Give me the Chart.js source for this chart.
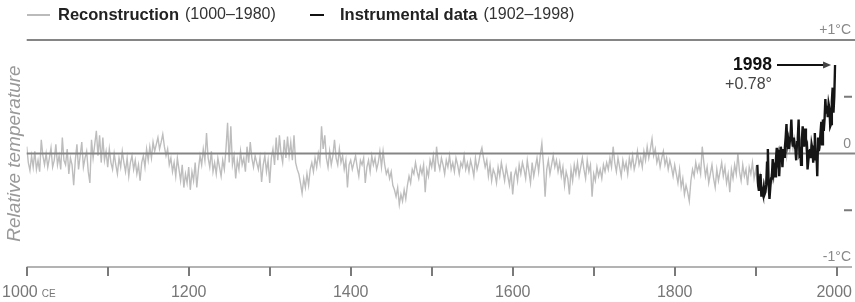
<!DOCTYPE html>
<html>
<head>
<meta charset="utf-8">
<script src="https://cdn.jsdelivr.net/npm/chart.js@4"></script>
<style>
html, body { margin: 0; padding: 0; background: #fff; }
#wrap { width: 855px; height: 302px; }
</style>
</head>
<body>
<div id="wrap"><canvas id="chart" width="855" height="302"></canvas></div>
<script>
// series names and their year ranges (legend)
const seriesNames = ['Reconstruction', 'Instrumental data'];
const seriesRanges = ['(1000\u20131980)', '(1902\u20131998)'];

// reconstruction, one value every 2 years from 1000 to 1980 (deg C, relative)
const reconStart = 1000;
const reconStep = 2;
const reconValues = [
  0.06, -0.08, -0.15, -0.02, -0.12, 0.02, -0.14, -0.06, -0.16, 0.12,     // 1000
  -0.02, -0.10, 0.00, -0.12, -0.04, 0.05, -0.12, -0.06, 0.08, -0.10,     // 1020
  -0.02, -0.14, 0.14, -0.06, -0.10, 0.04, -0.18, -0.04, -0.10, -0.28,    // 1040
  -0.06, 0.08, -0.14, -0.02, 0.10, -0.12, -0.04, 0.02, -0.16, -0.26,     // 1060
  0.12, -0.04, 0.08, 0.20, -0.02, 0.16, -0.08, 0.14, -0.06, 0.02,        // 1080
  -0.12, 0.04, -0.08, -0.14, 0.00, -0.10, -0.18, -0.04, -0.12, 0.02,     // 1100
  -0.08, -0.16, -0.04, -0.20, -0.08, -0.02, -0.14, -0.06, -0.18, -0.10,  // 1120
  -0.24, -0.08, -0.02, -0.12, 0.04, -0.06, 0.06, -0.04, 0.10, 0.02,      // 1140
  0.08, 0.14, 0.04, 0.10, 0.17, 0.06, -0.02, 0.04, -0.10, -0.04,         // 1160
  -0.16, -0.08, -0.20, -0.04, -0.14, -0.24, -0.10, -0.30, -0.18, -0.26,  // 1180
  -0.12, -0.32, -0.16, -0.24, -0.08, -0.30, -0.14, -0.02, -0.10, 0.04,   // 1200
  -0.06, 0.18, -0.04, -0.12, 0.02, -0.16, -0.08, -0.18, -0.04, -0.12,    // 1220
  -0.20, -0.06, -0.14, 0.04, 0.27, -0.08, 0.24, -0.10, -0.02, -0.22,     // 1240
  -0.06, -0.14, 0.02, -0.10, -0.04, -0.16, 0.06, -0.08, 0.10, -0.04,     // 1260
  -0.12, -0.02, -0.08, -0.14, -0.04, -0.25, -0.10, -0.02, -0.16, -0.06,  // 1280
  -0.26, -0.04, 0.04, -0.10, 0.14, -0.06, 0.16, 0.00, -0.08, 0.12,       // 1300
  -0.04, 0.15, -0.02, 0.10, -0.06, 0.16, -0.08, -0.14, -0.18, -0.26,     // 1320
  -0.35, -0.22, -0.30, -0.18, -0.28, -0.14, -0.08, -0.16, -0.04, -0.12,  // 1340
  0.00, -0.08, 0.24, 0.04, 0.16, -0.04, -0.12, 0.02, -0.10, -0.02,       // 1360
  0.12, -0.04, -0.10, 0.04, -0.08, -0.02, -0.14, -0.06, -0.30, -0.10,    // 1380
  -0.06, -0.14, -0.08, -0.02, -0.12, -0.20, -0.06, -0.10, -0.04, -0.26,  // 1400
  -0.12, -0.06, -0.16, -0.02, -0.10, -0.04, -0.14, -0.08, 0.02, -0.12,   // 1420
  0.02, -0.10, -0.18, -0.14, -0.22, -0.16, -0.28, -0.32, -0.38, -0.30,   // 1440
  -0.45, -0.36, -0.42, -0.32, -0.40, -0.28, -0.20, -0.26, -0.14, -0.18,  // 1460
  -0.08, -0.16, -0.22, -0.12, -0.18, -0.10, -0.34, -0.14, -0.20, -0.06,  // 1480
  -0.12, -0.02, -0.16, 0.06, -0.08, -0.14, -0.04, -0.10, -0.18, -0.06,   // 1500
  -0.12, -0.02, -0.14, -0.08, -0.16, -0.04, -0.10, -0.18, -0.08, -0.12,  // 1520
  -0.02, -0.14, -0.08, -0.16, -0.06, -0.12, -0.20, -0.04, -0.14, -0.08,  // 1540
  0.00, 0.05, -0.04, -0.12, -0.06, -0.20, -0.10, -0.24, -0.14, -0.18,    // 1560
  -0.26, -0.12, -0.20, -0.08, -0.16, -0.24, -0.12, -0.20, -0.28, -0.16,  // 1580
  -0.36, -0.20, -0.14, -0.24, -0.10, -0.18, -0.08, -0.14, -0.22, -0.06,  // 1600
  -0.16, -0.26, -0.08, -0.20, -0.12, -0.04, -0.16, -0.02, 0.09, -0.10,   // 1620
  -0.38, -0.14, -0.06, -0.18, -0.10, -0.02, -0.12, -0.06, -0.16, -0.08,  // 1640
  -0.20, -0.12, -0.28, -0.16, -0.22, -0.36, -0.14, -0.24, -0.10, -0.18,  // 1660
  -0.08, -0.20, -0.12, -0.04, -0.14, -0.22, -0.06, -0.16, -0.10, -0.38,  // 1680
  -0.18, -0.24, -0.12, -0.20, -0.14, -0.22, -0.10, -0.16, -0.08, -0.14,  // 1700
  -0.04, -0.12, 0.06, -0.08, -0.16, -0.04, -0.12, -0.20, -0.06, -0.14,   // 1720
  -0.08, -0.18, -0.04, -0.12, -0.02, -0.14, -0.08, 0.02, -0.10, -0.04,   // 1740
  -0.12, 0.02, -0.06, 0.06, -0.04, 0.04, 0.13, -0.02, 0.04, -0.08,       // 1760
  -0.02, -0.12, -0.04, 0.02, -0.10, -0.04, -0.14, -0.06, -0.12, -0.20,   // 1780
  -0.10, -0.18, -0.26, -0.14, -0.30, -0.22, -0.36, -0.28, -0.34, -0.42,  // 1800
  -0.24, -0.14, -0.20, -0.08, -0.16, -0.10, -0.18, 0.06, -0.08, -0.20,   // 1820
  -0.12, -0.26, -0.18, -0.10, -0.22, -0.30, -0.14, -0.24, -0.16, -0.08,  // 1840
  -0.20, -0.12, -0.26, -0.18, -0.34, -0.14, -0.22, -0.10, -0.18, 0.00,   // 1860
  -0.16, -0.24, -0.10, -0.20, -0.14, -0.28, -0.12, -0.18, -0.08, -0.22,  // 1880
  -0.14, -0.26, -0.30, -0.20, -0.34, -0.24, -0.28, -0.18, -0.30, -0.22,  // 1900
  -0.16, -0.24, -0.12, -0.18, -0.06, -0.14, -0.02, -0.08, 0.04, -0.04,   // 1920
  0.08, 0.02, 0.12, 0.04, 0.14, 0.06, 0.10, 0.00, 0.12, 0.06,            // 1940
  0.14, 0.04, 0.10, -0.02, 0.06, 0.00, 0.08, -0.04, 0.04, 0.02,          // 1960
  0.06                                                                   // 1980
];

// instrumental data, yearly from 1902 to 1998
const instStart = 1902;
const instValues = [
  -0.10, -0.28, -0.33, -0.24, -0.18, -0.38, -0.33, -0.36, -0.30, -0.36,  // 1902
  -0.34, -0.27, -0.08, 0.04, -0.28, -0.40, -0.30, -0.22, -0.20, -0.05,   // 1912
  -0.18, -0.14, -0.20, -0.05, 0.05, -0.06, -0.02, -0.20, 0.02, 0.06,     // 1922
  0.00, -0.12, 0.04, -0.03, 0.05, 0.14, 0.26, 0.08, 0.12, 0.04,          // 1932
  0.10, 0.16, 0.30, 0.12, 0.06, 0.14, 0.06, 0.04, -0.06, 0.10,           // 1942
  0.14, 0.30, 0.00, 0.02, -0.10, 0.12, 0.24, 0.14, 0.06, 0.22,           // 1952
  0.12, 0.10, -0.14, -0.06, 0.02, 0.04, -0.04, 0.08, 0.04, -0.08,        // 1962
  0.06, 0.18, -0.06, 0.02, -0.20, 0.14, 0.02, 0.08, 0.18, 0.28,          // 1972
  0.08, 0.30, 0.20, 0.30, 0.48, 0.36, 0.42, 0.32, 0.44, 0.40,            // 1982
  0.24, 0.26, 0.46, 0.58, 0.36, 0.50, 0.78                               // 1992
];

// axis ticks
const tickYears = [1000, 1100, 1200, 1300, 1400, 1500, 1600, 1700, 1800, 1900, 2000];
const labelYears = [1000, 1200, 1400, 1600, 1800, 2000];
const yLabelValues = [1, 0, -1];
const yLabels = ['+1\u00b0C', '0', '-1\u00b0C'];
const yMinorValues = [0.5, -0.5];

const FONT = '"Liberation Sans", Arial, Helvetica, sans-serif';

const reconPoints = reconValues.map(function(v, i){ return {x: reconStart + i * reconStep, y: v}; });
const instPoints = instValues.map(function(v, i){ return {x: instStart + i, y: v}; });

function hline(ctx, x1, x2, y, color, w) {
  ctx.save();
  ctx.strokeStyle = color;
  ctx.lineWidth = w;
  ctx.beginPath();
  ctx.moveTo(x1, y);
  ctx.lineTo(x2, y);
  ctx.stroke();
  ctx.restore();
}

const decor = {
  id: 'decor',
  beforeDatasetsDraw(chart) {
    const ctx = chart.ctx;
    const x = chart.scales.x, y = chart.scales.y;
    const W = chart.width;
    const left = x.getPixelForValue(1000);

    // legend
    const ly = 15;
    const items = [{x: 27, sw: 23, color: '#bbbbbb'}, {x: 310, sw: 14, color: '#111111'}];
    items.forEach(function(it, i){
      hline(ctx, it.x, it.x + it.sw, ly, it.color, 2);
      ctx.save();
      ctx.textBaseline = 'middle';
      ctx.fillStyle = '#222';
      ctx.font = 'bold 16.5px ' + FONT;
      const tx = it.x + it.sw + (i === 0 ? 8 : 16);
      ctx.fillText(seriesNames[i], tx, ly);
      const w = ctx.measureText(seriesNames[i]).width;
      ctx.font = '16px ' + FONT;
      ctx.fillStyle = '#333';
      ctx.fillText(seriesRanges[i], tx + w + 6, ly);
      ctx.restore();
    });

    // top line (+1) and bottom axis (-1)
    hline(ctx, left, W, y.getPixelForValue(1), '#858585', 2);
    const by = y.getPixelForValue(-1);
    hline(ctx, left, W - 3, by, '#9a9a9a', 1.5);

    // x ticks
    ctx.save();
    ctx.strokeStyle = '#7a7a7a';
    ctx.lineWidth = 2;
    tickYears.forEach(function(t){
      const px = Math.round(x.getPixelForValue(t));
      ctx.beginPath();
      ctx.moveTo(px, by);
      ctx.lineTo(px, by + 9);
      ctx.stroke();
    });
    ctx.restore();

    // x labels
    ctx.save();
    ctx.fillStyle = '#777';
    ctx.textBaseline = 'alphabetic';
    labelYears.forEach(function(t){
      const px = x.getPixelForValue(t);
      ctx.font = '16px ' + FONT;
      if (t === 1000) {
        ctx.textAlign = 'right';
        ctx.fillText(String(t), px + 11, 297);
        ctx.textAlign = 'left';
        ctx.font = '10px ' + FONT;
        ctx.fillText('CE', px + 15, 297);
      } else if (t === 2000) {
        ctx.textAlign = 'right';
        ctx.fillText(String(t), W - 3, 297);
      } else {
        ctx.textAlign = 'center';
        ctx.fillText(String(t), px, 297);
      }
    });
    ctx.restore();

    // right side labels and minor ticks
    ctx.save();
    ctx.fillStyle = '#888';
    ctx.font = '14px ' + FONT;
    ctx.textAlign = 'right';
    ctx.textBaseline = 'alphabetic';
    yLabelValues.forEach(function(v, i){
      ctx.fillText(yLabels[i], W - 4, y.getPixelForValue(v) - 6);
    });
    ctx.restore();
    yMinorValues.forEach(function(v){
      hline(ctx, W - 11, W - 3, y.getPixelForValue(v), '#7a7a7a', 2);
    });

    // y title
    ctx.save();
    ctx.translate(15, y.getPixelForValue(0));
    ctx.rotate(-Math.PI / 2);
    ctx.font = 'italic 19px ' + FONT;
    ctx.fillStyle = '#999';
    ctx.textAlign = 'center';
    ctx.textBaseline = 'middle';
    ctx.fillText('Relative temperature', 0, 0);
    ctx.restore();
  },
  afterDatasetDraw(chart, args) {
    // zero line sits above the reconstruction, below the instrumental line
    if (args.index === 1) {
      const x = chart.scales.x, y = chart.scales.y;
      hline(chart.ctx, x.getPixelForValue(1000), chart.width, y.getPixelForValue(0), '#858585', 2);
    }
  },
  afterDatasetsDraw(chart) {
    const ctx = chart.ctx;
    const x = chart.scales.x, y = chart.scales.y;
    const lastYear = instStart + instValues.length - 1;
    const lastVal = instValues[instValues.length - 1];
    const tipX = x.getPixelForValue(lastYear) - 4;
    const ay = y.getPixelForValue(lastVal);
    const textRight = 772;

    ctx.save();
    ctx.fillStyle = '#111';
    ctx.font = 'bold 17.5px ' + FONT;
    ctx.textAlign = 'right';
    ctx.textBaseline = 'middle';
    ctx.fillText(String(lastYear), textRight, ay);
    ctx.font = '16px ' + FONT;
    ctx.fillStyle = '#444';
    ctx.fillText('+' + lastVal.toFixed(2) + '\u00b0', textRight, ay + 20);

    ctx.strokeStyle = '#111';
    ctx.lineWidth = 2;
    ctx.beginPath();
    ctx.moveTo(textRight + 5, ay);
    ctx.lineTo(tipX - 6, ay);
    ctx.stroke();
    ctx.beginPath();
    ctx.moveTo(tipX, ay);
    ctx.lineTo(tipX - 8, ay - 3.5);
    ctx.lineTo(tipX - 8, ay + 3.5);
    ctx.closePath();
    ctx.fill();
    ctx.restore();
  }
};

const ctx = document.getElementById('chart');
const chart = new Chart(ctx, {
  type: 'line',
  data: {
    datasets: [{
      label: seriesNames[1],
      data: instPoints,
      borderColor: '#151515',
      borderWidth: 2.4,
      pointRadius: 0,
      tension: 0
    }, {
      label: seriesNames[0],
      data: reconPoints,
      borderColor: '#bdbdbd',
      borderWidth: 1.4,
      pointRadius: 0,
      tension: 0
    }]
  },
  options: {
    responsive: false,
    animation: false,
    devicePixelRatio: 1,
    layout: { padding: { left: 26.7, right: 18.3, top: 40, bottom: 35 } },
    plugins: { legend: { display: false }, tooltip: { enabled: false } },
    scales: {
      x: { type: 'linear', min: 1000, max: 2000, display: false },
      y: { min: -1, max: 1, display: false }
    }
  },
  plugins: [decor]
});
</script>
</body>
</html>
